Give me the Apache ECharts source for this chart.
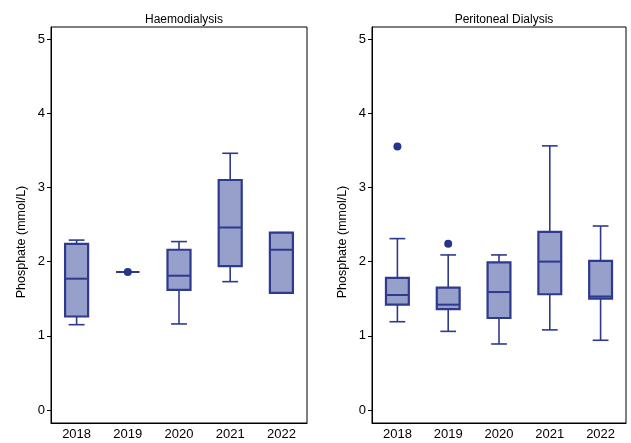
<!DOCTYPE html>
<html>
<head>
<meta charset="utf-8">
<script src="https://cdn.jsdelivr.net/npm/echarts@6/dist/echarts.min.js"></script>
<style>
html,body{margin:0;padding:0;background:#fff;}
#chart{width:631px;height:443px;}
</style>
</head>
<body>
<div id="chart"></div>
<script>
var categories = ['2018', '2019', '2020', '2021', '2022'];
var yTicks = [0, 1, 2, 3, 4, 5];

// Haemodialysis
var hdLow  = [1.15, 1.86, 1.16, 1.73, 1.58];
var hdQ1   = [1.26, 1.86, 1.62, 1.94, 1.58];
var hdMed  = [1.77, 1.86, 1.81, 2.46, 2.16];
var hdQ3   = [2.24, 1.86, 2.16, 3.10, 2.39];
var hdHigh = [2.29, 1.86, 2.27, 3.46, 2.39];
var hdPoints = [['2019', 1.86]];

// Peritoneal Dialysis
var pdLow  = [1.19, 1.06, 0.89, 1.08, 0.94];
var pdQ1   = [1.42, 1.36, 1.24, 1.56, 1.50];
var pdMed  = [1.55, 1.42, 1.59, 2.00, 1.53];
var pdQ3   = [1.78, 1.65, 1.99, 2.40, 2.01];
var pdHigh = [2.31, 2.09, 2.09, 3.56, 2.48];
var pdPoints = [['2018', 3.55], ['2019', 2.24]];

var titles = ['Haemodialysis', 'Peritoneal Dialysis'];
var yName = 'Phosphate (mmol/L)';

var STROKE = '#2e3a8e';
var FILL = '#979fcb';
var FONT = 'Liberation Sans, Arial, sans-serif';

function buildBox(low, q1, med, q3, high) {
  return categories.map(function (c, i) {
    return [i, low[i], q1[i], med[i], q3[i], high[i]];
  });
}

function renderBox(params, api) {
  var idx = api.value(0);
  var lo = api.coord([idx, api.value(1)]);
  var q1 = api.coord([idx, api.value(2)]);
  var md = api.coord([idx, api.value(3)]);
  var q3 = api.coord([idx, api.value(4)]);
  var hi = api.coord([idx, api.value(5)]);
  var band = api.size([1, 0])[0];
  var bw = band * 0.45;
  var cw = band * 0.31;
  var x = lo[0];
  var lineStyle = {stroke: STROKE, lineWidth: 1.6, fill: null};
  var children = [
    {type: 'line', shape: {x1: x, y1: hi[1], x2: x, y2: q3[1]}, style: lineStyle},
    {type: 'line', shape: {x1: x, y1: q1[1], x2: x, y2: lo[1]}, style: lineStyle},
    {type: 'line', shape: {x1: x - cw / 2, y1: hi[1], x2: x + cw / 2, y2: hi[1]}, style: lineStyle},
    {type: 'line', shape: {x1: x - cw / 2, y1: lo[1], x2: x + cw / 2, y2: lo[1]}, style: lineStyle},
    {type: 'rect', shape: {x: x - bw / 2, y: q3[1], width: bw, height: q1[1] - q3[1]},
      style: {fill: FILL, stroke: STROKE, lineWidth: 2.2}},
    {type: 'line', shape: {x1: x - bw / 2, y1: md[1], x2: x + bw / 2, y2: md[1]}, style: {stroke: STROKE, lineWidth: 2}}
  ];
  return {type: 'group', children: children};
}

var grids = [
  {left: 51, top: 27, width: 256, height: 396},
  {left: 372, top: 27, width: 254, height: 396}
];

function xAxis(g) {
  return {
    type: 'category', gridIndex: g, data: categories, boundaryGap: true,
    axisLine: {show: true, onZero: false, lineStyle: {color: '#000', width: 1}},
    axisTick: {show: false},
    axisLabel: {color: '#000', fontSize: 13, fontFamily: FONT, margin: 5},
    splitLine: {show: false}
  };
}
function yAxis(g) {
  return {
    type: 'value', gridIndex: g, min: -0.175, max: 5.162,
    axisLine: {show: true, onZero: false, lineStyle: {color: '#000', width: 1}},
    axisTick: {show: true, length: 4, customValues: yTicks, lineStyle: {color: '#000'}},
    axisLabel: {color: '#000', fontSize: 13, fontFamily: FONT, margin: 6, customValues: yTicks},
    splitLine: {show: false}
  };
}

var chart = echarts.init(document.getElementById('chart'));
chart.setOption({
  backgroundColor: '#fff',
  animation: false,
  title: [
    {text: titles[0], left: 179, top: 9, textAlign: 'center',
      textStyle: {fontSize: 12, fontWeight: 'normal', color: '#000', fontFamily: FONT}},
    {text: titles[1], left: 499, top: 9, textAlign: 'center',
      textStyle: {fontSize: 12, fontWeight: 'normal', color: '#000', fontFamily: FONT}}
  ],
  grid: grids.map(function (g) {
    return Object.assign({show: true, borderColor: '#000', borderWidth: 1, backgroundColor: 'transparent'}, g);
  }),
  xAxis: [xAxis(0), xAxis(1)],
  yAxis: [yAxis(0), yAxis(1)],
  graphic: [
    {type: 'text', x: 22, y: 242, rotation: Math.PI / 2,
      style: {text: yName, fontSize: 12.5, fontFamily: FONT, fill: '#000', textAlign: 'center', textVerticalAlign: 'middle'}},
    {type: 'text', x: 343, y: 242, rotation: Math.PI / 2,
      style: {text: yName, fontSize: 12.5, fontFamily: FONT, fill: '#000', textAlign: 'center', textVerticalAlign: 'middle'}}
  ],
  series: [
    {type: 'custom', xAxisIndex: 0, yAxisIndex: 0, renderItem: renderBox,
      data: buildBox(hdLow, hdQ1, hdMed, hdQ3, hdHigh), encode: {x: 0, y: [1, 2, 3, 4, 5]}},
    {type: 'scatter', xAxisIndex: 0, yAxisIndex: 0, data: hdPoints, symbolSize: 8,
      itemStyle: {color: '#27348b', opacity: 1}},
    {type: 'custom', xAxisIndex: 1, yAxisIndex: 1, renderItem: renderBox,
      data: buildBox(pdLow, pdQ1, pdMed, pdQ3, pdHigh), encode: {x: 0, y: [1, 2, 3, 4, 5]}},
    {type: 'scatter', xAxisIndex: 1, yAxisIndex: 1, data: pdPoints, symbolSize: 8,
      itemStyle: {color: '#27348b', opacity: 1}}
  ]
});
</script>
</body>
</html>
